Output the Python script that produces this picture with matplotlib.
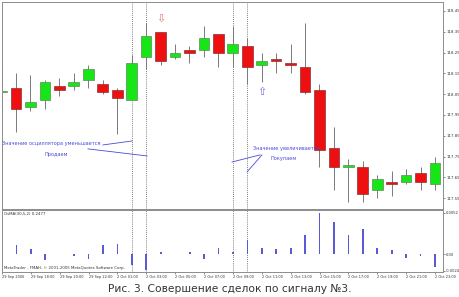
import matplotlib.pyplot as plt
import numpy as np

plt.rcParams['font.family'] = ['DejaVu Sans']

# Часовые свечи USDJPY (29 Sep 16:00 ... 2 Oct 23:00)
opens  = [118.06, 118.08, 117.99, 118.02, 118.09, 118.09, 118.12, 118.10, 118.07, 118.02, 118.23,
          118.35, 118.23, 118.26, 118.26, 118.34, 118.25, 118.28, 118.19, 118.22, 118.20,
          118.18, 118.07, 117.79, 117.70, 117.70, 117.59, 117.63, 117.63, 117.67, 117.62]
highs  = [118.18, 118.15, 118.14, 118.12, 118.13, 118.15, 118.19, 118.12, 118.08, 118.24, 118.39,
          118.35, 118.29, 118.28, 118.38, 118.34, 118.38, 118.32, 118.25, 118.25, 118.29,
          118.39, 118.10, 117.89, 117.74, 117.73, 117.66, 117.68, 117.69, 117.70, 117.75]
lows   = [117.96, 117.87, 117.97, 117.98, 118.04, 118.07, 118.08, 118.05, 117.86, 118.02, 118.17,
          118.19, 118.22, 118.20, 118.23, 118.18, 118.18, 118.10, 118.11, 118.15, 118.15,
          118.05, 117.70, 117.59, 117.53, 117.53, 117.55, 117.56, 117.62, 117.59, 117.59]
closes = [118.065, 117.98, 118.01, 118.11, 118.07, 118.11, 118.17, 118.06, 118.03, 118.20, 118.33,
          118.21, 118.25, 118.25, 118.32, 118.25, 118.29, 118.18, 118.21, 118.21, 118.19,
          118.06, 117.78, 117.70, 117.71, 117.57, 117.64, 117.62, 117.66, 117.63, 117.72]

# OsMA
osma = [0.0001, 0.00114, 0.00063, -0.00076, 0.00006, -0.00025, -0.00063, 0.00114, 0.00127,
        -0.0014, -0.0020, 0.00025, 0.00006, 0.00025, -0.00063, 0.00076, 0.00025, 0.00178,
        0.00076, 0.00063, 0.00076, 0.0024, 0.0052, 0.00406, 0.0024, 0.00317, 0.00076,
        0.0005, -0.0005, -0.00025, -0.00165]

date_labels = ['29 Sep 2006', '29 Sep 18:00', '29 Sep 20:00', '29 Sep 22:00', '2 Oct 01:00',
               '2 Oct 03:00', '2 Oct 05:00', '2 Oct 07:00', '2 Oct 09:00', '2 Oct 11:00',
               '2 Oct 13:00', '2 Oct 15:00', '2 Oct 17:00', '2 Oct 19:00', '2 Oct 21:00',
               '2 Oct 23:00']
price_ticks = [118.45, 118.35, 118.25, 118.15, 118.05, 117.95, 117.85, 117.75, 117.65, 117.55]
signal_bars = [9, 10, 16, 17]

x = np.arange(len(opens))
o = np.array(opens)
c = np.array(closes)

fig = plt.figure(figsize=(4.6, 2.97), dpi=100)
ax = fig.add_axes([2/460, 1-209/297, 441/460, 207/297])
ax2 = fig.add_axes([2/460, 1-272/297, 441/460, 62/297])

# свечи
up = c >= o
ax.vlines(x, lows, highs, color='#7a7a7a', lw=0.7, zorder=1)
body_h = np.maximum(np.abs(c - o), 0.006)
ax.bar(x[up], body_h[up], 0.74, bottom=np.minimum(o, c)[up], color='#16e616',
       edgecolor='#5a8a5a', lw=0.5, zorder=2)
ax.bar(x[~up], body_h[~up], 0.74, bottom=np.minimum(o, c)[~up], color='#ee1010',
       edgecolor='#8a3030', lw=0.5, zorder=2)

ax.set_xlim(0.03, 30.55)
ax.set_ylim(117.498, 118.493)
ax.yaxis.tick_right()
ax.set_yticks(price_ticks)
ax.set_yticklabels(['%.2f' % p for p in price_ticks])
ax.tick_params(axis='y', labelsize=2.8, length=1.5, width=0.4, pad=1, colors='#333333')
ax.set_xticks([])

for a in (ax, ax2):
    for s in a.spines.values():
        s.set_color('#8c8c8c')
        s.set_linewidth(0.7)
    for b in signal_bars:
        a.axvline(b, color='#555555', lw=0.6, ls=(0, (1, 1.5)), zorder=0)

# стрелки сигналов
ax.text(11, 118.41, '\u21e9', color='#f07070', fontsize=8, ha='center', va='center')
ax.text(18, 118.06, '\u21e7', color='#7070e0', fontsize=8, ha='center', va='center')

# пометки
blue = '#4a4ad8'
ax.plot([7.02, 9.03], [117.806, 117.825], color=blue, lw=0.6)
ax.plot([5.98, 10.07], [117.787, 117.753], color=blue, lw=0.6)
ax.plot([15.95, 17.89], [117.724, 117.758], color=blue, lw=0.6)
ax.plot([16.99, 18.02], [117.676, 117.758], color=blue, lw=0.6)
ax.text(0.05, 117.815, 'Значение осциллятора уменьшается', color=blue, fontsize=3.6,
        ha='left', va='center')
ax.text(3.0, 117.762, 'Продаем', color=blue, fontsize=3.6, ha='left', va='center')
ax.text(17.4, 117.791, 'Значение увеличивается', color=blue, fontsize=3.6,
        ha='left', va='center')
ax.text(18.58, 117.743, 'Покупаем', color=blue, fontsize=3.6, ha='left', va='center')

# OsMA
ax2.bar(x, osma, 0.12, color='#5a5ad8', zorder=2)
ax2.set_xlim(0.03, 30.55)
ax2.set_ylim(-0.00228, 0.00558)
ax2.yaxis.tick_right()
ax2.set_yticks([0.0052, 0.0, -0.0021])
ax2.set_yticklabels(['0.0052', '0.00', '-0.0024'])
ax2.tick_params(axis='y', labelsize=2.6, length=1.5, width=0.4, pad=0.8, colors='#333333')
ax2.set_xticks(x[::2])
ax2.set_xticklabels(date_labels, ha='left')
ax2.tick_params(axis='x', labelsize=2.5, length=1.5, width=0.4, pad=1, colors='#333333')
ax2.text(0.005, 0.96, 'OsMA(30,5,2) 0.2477', transform=ax2.transAxes, fontsize=2.8,
         ha='left', va='top', color='#333333')
ax2.text(0.005, 0.03, 'MetaTrader - FMAH, \u00a9 2001-2005 MetaQuotes Software Corp.',
         transform=ax2.transAxes, fontsize=2.8, ha='left', va='bottom', color='#333333')

fig.text(0.5, 1-289/297, 'Рис. 3. Совершение сделок по сигналу №3.', ha='center',
         va='center', fontsize=7.7, color='#333333')

fig.savefig('out.png', dpi=100)
